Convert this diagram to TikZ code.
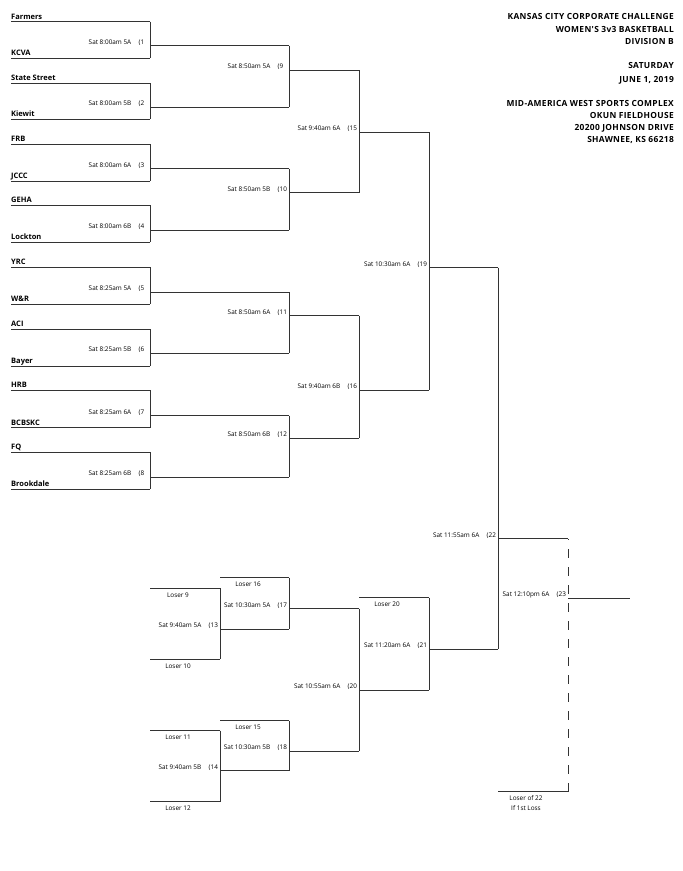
\documentclass[tikz,border=0pt]{standalone}
\usepackage{fontspec}
\setmainfont{Open Sans}
\newfontfamily\headfont[LetterSpace=4]{Open Sans}
\begin{document}
\begin{tikzpicture}[x=1pt,y=-1pt,
  line/.style={line width=0.9pt,draw=black!80},
  team/.style={anchor=base west,inner sep=0pt,yshift=2.5pt,font=\fontsize{7.5}{9}\selectfont\bfseries},
  slot/.style={anchor=base east,inner sep=0pt,xshift=-18.5pt,yshift=1.5pt,font=\fontsize{6.4}{7}\selectfont},
  num/.style={anchor=base west,inner sep=0pt,xshift=-11.5pt,yshift=1.5pt,font=\fontsize{6.4}{7}\selectfont},
  loser/.style={anchor=base,inner sep=0pt,xshift=28pt,yshift=-8.7pt,font=\fontsize{6.4}{7}\selectfont},
  heading/.style={anchor=base east,inner sep=0pt,font=\headfont\fontsize{8.4}{10}\selectfont\bfseries}]
\useasboundingbox (0,0) rectangle (683,871);

% heading
\foreach \i/\y/\t in {1/19/{KANSAS CITY CORPORATE CHALLENGE},2/32.3/{WOMEN'S 3v3 BASKETBALL},
    3/44.7/{DIVISION B},4/68.7/{SATURDAY},5/82/{JUNE 1, 2019},
    6/106/{MID-AMERICA WEST SPORTS COMPLEX},7/118/{OKUN FIELDHOUSE},
    8/130.3/{20200 JOHNSON DRIVE},9/142.3/{SHAWNEE, KS 66218}}
  \node[heading] (h\i) at (674,\y) {\t};

% teams
\foreach \i/\y/\t in {1/21.7/Farmers,2/58/KCVA,3/83/State Street,4/119/Kiewit,
    5/144.3/FRB,6/181/JCCC,7/205.3/GEHA,8/242.3/Lockton,
    9/267.3/YRC,10/304.3/W\&R,11/329/ACI,12/366/Bayer,
    13/390.3/HRB,14/427.7/BCBSKC,15/452/FQ,16/489.3/Brookdale}
  \node[team] (t\i) at (11,\y) {\t};

% matches
\coordinate (m1) at (150,45.7);
\coordinate (m2) at (150,107.3);
\coordinate (m3) at (150,168.7);
\coordinate (m4) at (150,230);
\coordinate (m5) at (150,292);
\coordinate (m6) at (150,353.3);
\coordinate (m7) at (150,415.7);
\coordinate (m8) at (150,477);
\coordinate (m9) at (289,70.3);
\coordinate (m10) at (289,192.7);
\coordinate (m11) at (289,315.7);
\coordinate (m12) at (289,438.3);
\coordinate (m15) at (359,132);
\coordinate (m16) at (359,390.3);
\coordinate (m19) at (429,267.7);
\coordinate (m22) at (498,538.7);
\coordinate (m23) at (568,598.3);
\coordinate (fin) at (630,598.3);
% losers side
\coordinate (m13) at (220,629);
\coordinate (m14) at (220,770.7);
\coordinate (m17) at (289,608.7);
\coordinate (m18) at (289,751);
\coordinate (m20) at (359,690);
\coordinate (m21) at (429,649.3);
\coordinate (l9) at (150,588.3);
\coordinate (l10) at (150,659.3);
\coordinate (l11) at (150,730.7);
\coordinate (l12) at (150,801.7);
\coordinate (l16) at (220,577.7);
\coordinate (l15) at (220,720.7);
\coordinate (l20) at (359,597.7);
\coordinate (l22) at (498,791.7);

% team lines
\foreach \i/\m in {1/m1,2/m1,3/m2,4/m2,5/m3,6/m3,7/m4,8/m4,
    9/m5,10/m5,11/m6,12/m6,13/m7,14/m7,15/m8,16/m8}
  \draw[line] ([yshift=-2.5pt]t\i.base west) -- ([yshift=-2.5pt]t\i.base west -| \m);
\foreach \l/\m in {l9/m13,l10/m13,l11/m14,l12/m14,l16/m17,l15/m18,l20/m21,l22/m23}
  \draw[line] (\l) -- (\l -| \m);

% verticals
\foreach \m/\a/\b in {m1/t1/t2,m2/t3/t4,m3/t5/t6,m4/t7/t8,m5/t9/t10,m6/t11/t12,m7/t13/t14,m8/t15/t16}
  \draw[line] ([yshift=-2.5pt]\a.base west -| \m) -- ([yshift=-2.5pt]\b.base west -| \m);
\foreach \m/\a/\b in {m9/m1/m2,m10/m3/m4,m11/m5/m6,m12/m7/m8,m15/m9/m10,m16/m11/m12,
    m19/m15/m16,m13/l9/l10,m14/l11/l12,m17/l16/m13,m18/l15/m14,m20/m17/m18,
    m21/l20/m20,m22/m19/m21}
  \draw[line] (\a -| \m) -- (\b -| \m);
\draw[line,dash pattern=on 9pt off 9pt] (l22 -| m23) -- (m22 -| m23);

% outputs
\foreach \m/\n in {m1/m9,m2/m9,m3/m10,m4/m10,m5/m11,m6/m11,m7/m12,m8/m12,
    m9/m15,m10/m15,m11/m16,m12/m16,m15/m19,m16/m19,m19/m22,m13/m17,m14/m18,
    m17/m20,m18/m20,m20/m21,m21/m22,m22/m23,m23/fin}
  \draw[line] (\m) -- (\m -| \n);

% match labels
\foreach \m/\t in {1/{Sat 8:00am 5A},2/{Sat 8:00am 5B},3/{Sat 8:00am 6A},4/{Sat 8:00am 6B},
    5/{Sat 8:25am 5A},6/{Sat 8:25am 5B},7/{Sat 8:25am 6A},8/{Sat 8:25am 6B},
    9/{Sat 8:50am 5A},10/{Sat 8:50am 5B},11/{Sat 8:50am 6A},12/{Sat 8:50am 6B},
    13/{Sat 9:40am 5A},14/{Sat 9:40am 5B},15/{Sat 9:40am 6A},16/{Sat 9:40am 6B},
    17/{Sat 10:30am 5A},18/{Sat 10:30am 5B},19/{Sat 10:30am 6A},20/{Sat 10:55am 6A},
    21/{Sat 11:20am 6A},22/{Sat 11:55am 6A},23/{Sat 12:10pm 6A}}
  {\node[slot] (s\m) at (m\m) {\t};
   \node[num] (n\m) at (m\m) {(\m};}

% loser labels
\node[loser] (w9) at (l9) {Loser 9};
\node[loser] (w10) at (l10) {Loser 10};
\node[loser] (w11) at (l11) {Loser 11};
\node[loser] (w12) at (l12) {Loser 12};
\node[loser] (w16) at (l16) {Loser 16};
\node[loser] (w15) at (l15) {Loser 15};
\node[loser] (w20) at (l20) {Loser 20};
\node[loser] (w22) at (l22) {Loser of 22};
\node[loser,yshift=-9.7pt] (w22b) at (l22) {If 1st Loss};
\end{tikzpicture}
\end{document}
